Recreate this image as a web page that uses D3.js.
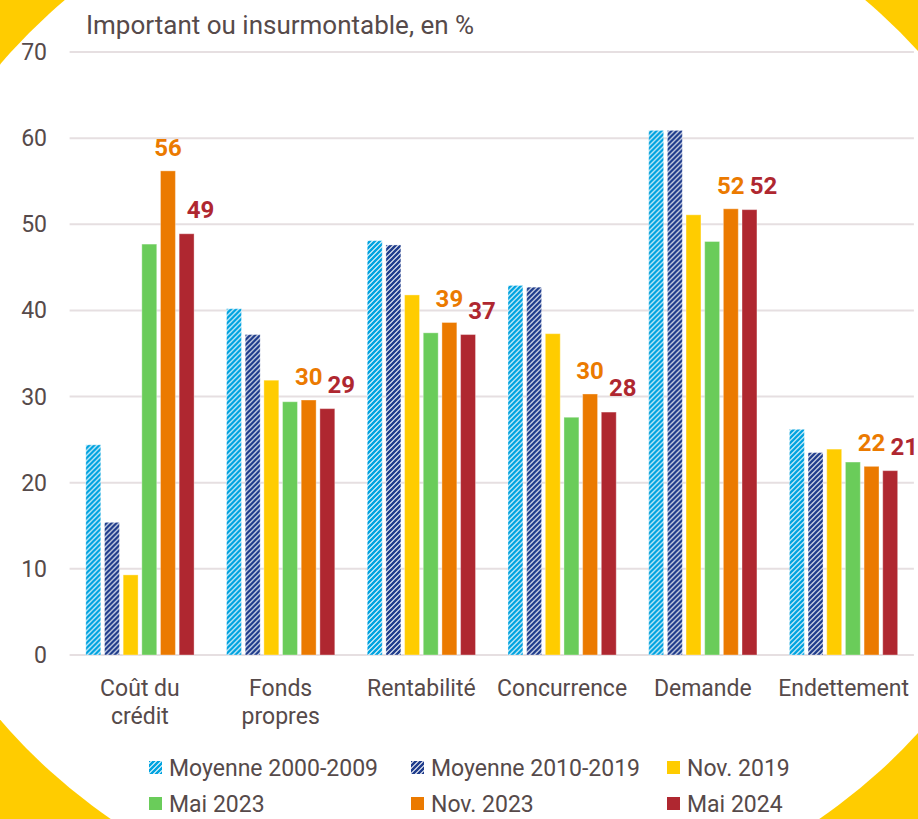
<!DOCTYPE html>
<html>
<head>
<meta charset="utf-8">
<script src="https://cdn.jsdelivr.net/npm/d3@7"></script>
<style>
  body { margin: 0; background: #fff; }
  svg { display: block; font-family: Roboto, "Noto Sans", sans-serif; }
</style>
</head>
<body>
<svg id="chart" width="918" height="819"></svg>
<script>
// categories and series
const categories = [['Coût du', 'crédit'], ['Fonds', 'propres'], ['Rentabilité'], ['Concurrence'], ['Demande'], ['Endettement']];
const seriesNames = ['Moyenne 2000-2009', 'Moyenne 2010-2019', 'Nov. 2019', 'Mai 2023', 'Nov. 2023', 'Mai 2024'];
const moy2000 = [24.4, 40.2, 48.1, 42.9, 60.9, 26.2];
const moy2010 = [15.4, 37.2, 47.6, 42.7, 60.9, 23.5];
const nov2019 = [9.3, 31.9, 41.8, 37.3, 51.1, 23.9];
const mai2023 = [47.7, 29.4, 37.4, 27.6, 48.0, 22.4];
const nov2023 = [56.2, 29.6, 38.6, 30.3, 51.8, 21.9];
const mai2024 = [48.9, 28.6, 37.2, 28.2, 51.7, 21.4];
const yTicks = [0, 10, 20, 30, 40, 50, 60, 70];

const seriesValues = [moy2000, moy2010, nov2019, mai2023, nov2023, mai2024];
const colors = ['#00a3e0', '#1f3c8c', '#ffcc00', '#6acc5a', '#eb7a00', '#af2730'];
const fills = ['url(#hatch0)', 'url(#hatch1)', colors[2], colors[3], colors[4], colors[5]];
const textColor = '#564a4a';

const svg = d3.select('#chart');
const W = 918, H = 819;

// yellow frame with a big white oval in the middle
svg.append('rect').attr('width', W).attr('height', H).attr('fill', '#ffcc00');
svg.append('ellipse')
  .attr('cx', 465).attr('cy', 392)
  .attr('rx', 588).attr('ry', 535)
  .attr('fill', '#fff');

// hatch patterns for the two averages
const defs = svg.append('defs');
[0, 1].forEach(i => {
  const p = defs.append('pattern')
    .attr('id', `hatch${i}`)
    .attr('patternUnits', 'userSpaceOnUse')
    .attr('width', 5).attr('height', 5);
  p.append('rect').attr('width', 5).attr('height', 5).attr('fill', '#fff');
  p.append('path')
    .attr('d', 'M-1,1 l2,-2 M0,5 l5,-5 M4,6 l2,-2')
    .attr('stroke', colors[i])
    .attr('stroke-width', 2.6);
});

const x0 = d3.scaleBand()
  .domain(d3.range(categories.length))
  .range([69.6, 913.9]);
const x1 = d3.scaleBand()
  .domain(d3.range(seriesNames.length))
  .range([0, x0.bandwidth()])
  .paddingInner(0.2)
  .paddingOuter(0.87);
const y = d3.scaleLinear().domain([0, 70]).range([655, 52]);

// gridlines
svg.append('g')
  .selectAll('line')
  .data(yTicks)
  .join('line')
  .attr('x1', 69.6).attr('x2', 913.9)
  .attr('y1', d => y(d)).attr('y2', d => y(d))
  .attr('stroke', '#e6dfe1')
  .attr('stroke-width', 2);

// y tick labels
svg.append('g')
  .selectAll('text')
  .data(yTicks)
  .join('text')
  .attr('x', 47)
  .attr('y', d => y(d))
  .attr('dy', '0.35em')
  .attr('text-anchor', 'end')
  .attr('font-size', 23)
  .attr('fill', textColor)
  .text(d => d);

// title
svg.append('text')
  .attr('x', 86).attr('y', 34)
  .attr('font-size', 26)
  .attr('fill', textColor)
  .text('Important ou insurmontable, en %');

// bars
const groups = svg.append('g')
  .selectAll('g')
  .data(categories)
  .join('g')
  .attr('transform', (d, i) => `translate(${x0(i)},0)`);

groups.selectAll('rect')
  .data((d, i) => seriesValues.map((vals, s) => ({s, v: vals[i]})))
  .join('rect')
  .attr('x', d => x1(d.s))
  .attr('width', x1.bandwidth())
  .attr('y', d => y(d.v))
  .attr('height', d => y(0) - y(d.v))
  .attr('fill', d => fills[d.s])
  .attr('stroke', '#fff')
  .attr('stroke-opacity', 0.35)
  .attr('stroke-width', 1);

// value labels for the last two surveys
groups.append('text')
  .attr('x', x1(4) + x1.bandwidth() / 2)
  .attr('y', (d, i) => y(nov2023[i]) - 15)
  .attr('text-anchor', 'middle')
  .attr('font-size', 24)
  .attr('font-weight', 'bold')
  .attr('fill', colors[4])
  .text((d, i) => Math.round(nov2023[i]));

groups.append('text')
  .attr('x', x1(5) + x1.bandwidth() / 2 + 14)
  .attr('y', (d, i) => y(mai2024[i]) - 16)
  .attr('text-anchor', 'middle')
  .attr('font-size', 24)
  .attr('font-weight', 'bold')
  .attr('fill', colors[5])
  .text((d, i) => Math.round(mai2024[i]));

// category labels
groups.append('text')
  .attr('text-anchor', 'middle')
  .attr('font-size', 23)
  .attr('fill', textColor)
  .selectAll('tspan')
  .data(d => d)
  .join('tspan')
  .attr('x', x0.bandwidth() / 2)
  .attr('y', (d, i) => 696 + i * 28)
  .text(d => d);

// legend, three columns by two rows
const legendX = [149, 411, 667];
const legendY = [761, 797];
const legend = svg.append('g')
  .selectAll('g')
  .data(seriesNames)
  .join('g')
  .attr('transform', (d, i) => `translate(${legendX[i % 3]},${legendY[Math.floor(i / 3)]})`);

legend.append('rect')
  .attr('width', 13).attr('height', 13)
  .attr('fill', (d, i) => fills[i]);

legend.append('text')
  .attr('x', 20).attr('y', 6.5)
  .attr('dy', '0.35em')
  .attr('font-size', 23)
  .attr('fill', textColor)
  .text(d => d);
</script>
</body>
</html>
